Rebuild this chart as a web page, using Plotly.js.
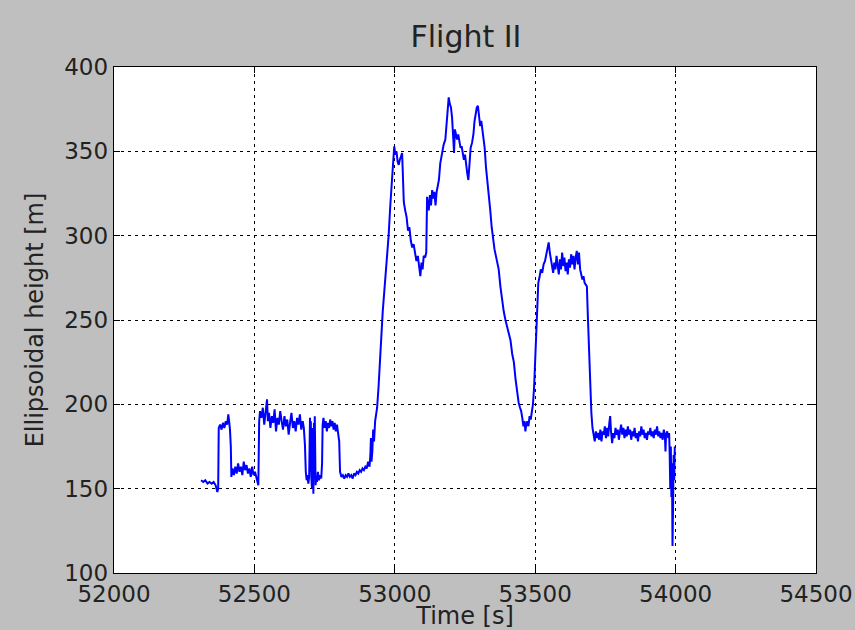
<!DOCTYPE html>
<html>
<head>
<meta charset="utf-8">
<script src="https://cdn.plot.ly/plotly-3.0.1.min.js"></script>
<style>html,body{margin:0;padding:0;background:#bfbfbf;}#chart{width:855px;height:630px;}</style>
</head>
<body>
<div id="chart"></div>
<script>
const timeS = [
52310,52318,52325,52333,52340,52348,52355,52362,52368,52371,
52373,52378,52383,52388,52393,52398,52403,52407,52410,52413,52416,52418,
52422,52427,52432,52437,52442,52447,52452,52457,52462,52467,52472,52477,52482,52487,52492,52497,52502,52507,52511,52514,
52517,52520,52525,52530,52535,52540,52545,52548,52552,52557,52562,52567,52572,52577,52582,52587,52592,52597,52602,52607,52612,52617,52622,52627,52632,52637,52642,52647,52652,52657,52662,52667,52672,52676,52680,52683,
52686,52689,52692,52695,52697,52698,52700,52701,52703,52705,52707,52708,52710,52712,52713,52715,52716,52718,52720,52723,52726,52730,52734,52738,52741,52743,
52746,52750,52754,52758,52762,52766,52770,52774,52778,52782,52786,52790,52794,52798,52802,52805,
52810,52815,52820,52825,52830,52835,52840,52845,52850,52855,52860,52865,52870,52875,52880,52885,52890,52895,52900,52905,52910,52913,52915,52917,52920,52923,52926,52930,52934,52937,
52942,52947,52952,52957,52962,52968,52973,52978,52984,52990,52995,52998,53002,53006,53010,53014,53018,53022,53026,53028,53032,53037,53042,53047,53052,53057,53062,53067,53072,53077,53082,53087,53091,53095,53099,53103,53108,53112,
53115,53118,53121,53125,53129,53133,53137,53141,53145,53149,53153,53157,53162,53168,53174,53180,53184,53188,53192,53196,53200,53204,53208,53211,53214,53218,53222,53226,53230,53234,53238,53242,53246,53250,53254,53258,53262,53266,53270,53275,53280,53284,53288,53292,53296,53300,53304,53308,53312,53316,53320,53325,53330,53335,53340,53345,53350,53355,53360,53365,53370,53376,53382,53388,53394,53400,53406,53412,53418,53424,53430,53436,53441,53446,53450,53454,53458,53462,53465,53468,53472,53476,53480,53484,53488,53492,53496,
53500,53503,53507,53511,53515,53520,53525,53530,53535,53540,53545,53548,53552,53556,53560,53564,53568,53572,53576,53580,53584,53588,53592,53596,53600,53604,53608,53612,53616,53620,53624,53628,53632,53636,53640,53644,53648,53652,53656,53660,53664,53668,53672,53676,53680,53684,53688,53692,53696,53700,
53704,53708,53712,53716,53720,53724,53728,53732,53736,53740,53744,53748,53752,53756,53760,53764,53767,53770,53774,53778,53782,53786,53790,53794,53798,53802,53806,53810,53814,53818,53822,53826,53830,53834,53838,53842,53846,53850,53854,53858,53862,53866,53870,53874,53878,53882,53886,53890,53894,53898,53902,53906,53910,53914,53918,53922,53926,53930,53934,53938,53942,53946,53950,53954,53958,53962,53964,53966,53970,53974,53977,53979,53981,53983,53985,53987,53989,53991,53993,53995,53997
];
const heightM = [
155,154,155,153,154,153,154,152,148,150,
186,188,185,189,186,190,188,194,190,185,175,157,
162,158,163,159,165,160,163,158,166,161,164,159,162,157,163,158,160,157,155,152,
190,196,192,198,188,194,203,190,195,186,193,189,197,184,192,188,196,190,185,193,187,191,182,189,195,186,190,184,192,188,194,185,190,186,176,160,
155,158,153,157,172,192,160,190,156,150,186,158,147,189,160,193,155,152,157,154,160,155,158,156,165,188,
192,186,190,184,189,186,191,187,190,185,189,184,188,183,178,160,
157,158,156,158,157,159,157,158,156,159,158,160,159,161,160,162,161,163,162,166,163,170,180,166,172,185,178,190,196,198,
210,222,240,255,265,280,292,300,318,335,350,353,348,350,344,342,345,348,349,340,320,315,311,303,305,297,293,295,289,285,288,282,276,284,280,288,287,290,
323,318,315,324,318,327,322,326,318,326,330,333,343,349,354,357,365,375,382,378,376,370,360,349,363,360,357,360,355,352,353,348,345,348,340,337,333,345,352,355,360,368,373,376,377,372,365,368,363,358,352,340,332,326,315,305,298,292,288,283,280,270,262,255,250,246,243,238,230,225,215,207,201,198,196,192,187,190,184,188,190,187,193,191,196,200,210,
228,232,255,272,275,280,278,283,285,290,295,296,290,286,283,278,284,280,288,282,277,286,280,290,282,287,279,284,277,286,281,289,283,288,280,287,291,283,290,280,276,274,276,272,271,270,250,230,212,195,
186,182,178,184,180,183,179,185,178,184,182,187,180,186,181,189,193,184,177,183,180,186,182,185,179,184,188,182,186,180,185,181,187,182,185,179,184,181,186,180,183,178,184,181,187,182,185,180,183,179,184,182,186,181,184,180,185,182,187,181,184,180,183,179,185,181,172,182,184,180,183,170,150,175,145,165,116,140,170,155,175
];
const xTicks = [52000, 52500, 53000, 53500, 54000, 54500];
const yTicks = [100, 150, 200, 250, 300, 350, 400];

const fontFam = '"DejaVu Sans", Verdana, sans-serif';
const trace = {
  x: timeS, y: heightM, type: 'scatter', mode: 'lines',
  line: {color: '#0000ff', width: 2},
  hoverinfo: 'skip'
};
const axisCommon = {
  showline: true, mirror: 'ticks', linecolor: '#000', linewidth: 1.3,
  ticks: 'inside', ticklen: 6, tickcolor: '#000', tickwidth: 1,
  showgrid: true, gridcolor: '#000', gridwidth: 1, griddash: '3px,4px',
  zeroline: false, tickmode: 'array',
  tickfont: {family: fontFam, size: 23, color: '#222'}
};
const layout = {
  width: 855, height: 630,
  paper_bgcolor: '#bfbfbf', plot_bgcolor: '#ffffff',
  margin: {l: 114, r: 39, t: 67, b: 57, pad: 0},
  showlegend: false,
  title: {text: 'Flight II', font: {family: fontFam, size: 30, color: '#222'}, x: 0.545, xanchor: 'center', y: 0.9587, yanchor: 'top'},
  xaxis: Object.assign({}, axisCommon, {
    range: [52000, 54500], tickvals: xTicks, ticktext: xTicks.map(String),
    title: {text: 'Time [s]', font: {family: fontFam, size: 24, color: '#222'}, standoff: 2}
  }),
  yaxis: Object.assign({}, axisCommon, {
    range: [100, 400], tickvals: yTicks, ticktext: yTicks.map(String),
    title: {text: 'Ellipsoidal height [m]', font: {family: fontFam, size: 24, color: '#222'}, standoff: 13}
  })
};
Plotly.newPlot('chart', [trace], layout, {displayModeBar: false, staticPlot: true});
</script>
</body>
</html>
